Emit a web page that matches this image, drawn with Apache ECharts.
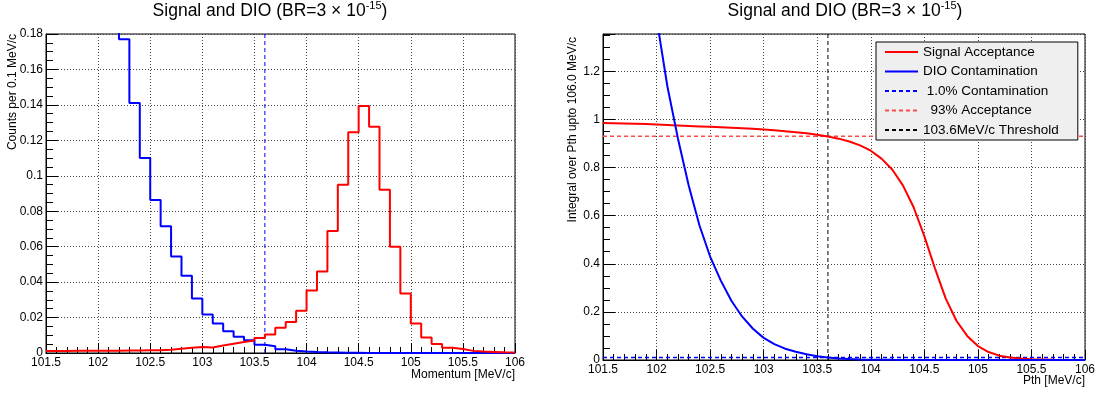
<!DOCTYPE html>
<html>
<head>
<meta charset="utf-8">
<script src="https://cdn.jsdelivr.net/npm/echarts@6/dist/echarts.min.js"></script>
<style>
html,body{margin:0;padding:0;background:#fff;}
#c{width:1099px;height:396px;}
</style>
</head>
<body>
<div id="c"></div>
<script>
// ---------- data ----------
// histogram bin edges (MeV/c), 0.1 MeV/c bins
const binEdges = [101.5,101.6,101.7,101.8,101.9,102.0,102.1,102.2,102.3,102.4,
  102.5,102.6,102.7,102.8,102.9,103.0,103.1,103.2,103.3,103.4,
  103.5,103.6,103.7,103.8,103.9,104.0,104.1,104.2,104.3,104.4,
  104.5,104.6,104.7,104.8,104.9,105.0,105.1,105.2,105.3,105.4,
  105.5,105.6,105.7,105.8,105.9,106.0];
// counts per bin (45 bins)
const signalCounts = [0.0011,0.0011,0.0012,0.0012,0.0012,0.0013,0.0013,0.0014,0.0014,0.0015,
  0.0016,0.0018,0.0024,0.0029,0.0034,0.0031,0.0042,0.0052,0.0062,0.0070,
  0.0085,0.0104,0.0142,0.0175,0.0238,0.0353,0.0460,0.0689,0.0949,0.1246,
  0.1394,0.1276,0.0921,0.0600,0.0336,0.0166,0.0087,0.0051,0.0030,0.0022,
  0.0012,0.0008,0.0006,0.0004,0.0003];
const dioCounts = [0.86,0.69,0.55,0.44,0.35,0.28,0.225,0.177,0.141,0.110,
  0.0864,0.0715,0.0545,0.0436,0.0308,0.0217,0.0166,0.0123,0.0092,0.0072,
  0.0047,0.0038,0.0021,0.0013,0.0009,0.0006,0.0004,0.0003,0.0002,0.0001,
  0,0,0,0,0,0,0,0,0,0,
  0,0,0,0,0];
// threshold scan
const pthValues = [101.5,101.6,101.7,101.8,101.9,102.0,102.1,102.2,102.3,102.4,
  102.5,102.6,102.7,102.8,102.9,103.0,103.1,103.2,103.3,103.4,
  103.5,103.6,103.7,103.8,103.9,104.0,104.1,104.2,104.3,104.4,
  104.5,104.6,104.7,104.8,104.9,105.0,105.1,105.2,105.3,105.4,
  105.5,105.6,105.7,105.8,105.9,106.0];
const signalAcceptance = [0.985,0.984,0.983,0.982,0.981,0.979,0.977,0.975,0.973,0.971,
  0.969,0.967,0.965,0.963,0.961,0.958,0.955,0.951,0.947,0.942,
  0.936,0.929,0.920,0.908,0.892,0.870,0.837,0.792,0.726,0.635,
  0.515,0.380,0.255,0.163,0.100,0.058,0.033,0.018,0.010,0.006,
  0.003,0.002,0.001,0.0005,0.0002,0];
const dioContamination = [3.6,2.9,2.35,1.95,1.65,1.42,1.14,0.92,0.725,0.56,
  0.43,0.33,0.245,0.18,0.13,0.092,0.066,0.047,0.034,0.024,
  0.016,0.010,0.0065,0.004,0.0025,0.0015,0.001,0.0006,0.0004,0.0002,
  0.0001,0,0,0,0,0,0,0,0,0,
  0,0,0,0,0,0];
const thresholdMomentum = 103.6;
const contaminationLevel = 0.01;
const acceptanceLevel = 0.93;
const xRange = [101.5, 106];
const leftYMax = 0.18;
const rightYMax = 1.355;
const legendNames = ['Signal Acceptance','DIO Contamination',' 1.0% Contamination','  93% Acceptance','103.6MeV/c Threshold'];
const titleText = 'Signal and DIO (BR=3 × 10{s|-15})';

// ---------- build ----------
const FONT = 'Liberation Sans, Arial, Helvetica, sans-serif';
const L = {x0:46, x1:515, y0:34, y1:353};
const R = {x0:603, x1:1085, y0:34, y1:360};
function histData(vals){
  return binEdges.map((e,i)=>[e, i<vals.length ? vals[i] : vals[vals.length-1]]);
}
function curveData(vals){ return pthValues.map((p,i)=>[p, vals[i]]); }

const gridLine = {color:'#444', width:1, type:[1,2]};
function xAxisCfg(gi){
  return {type:'value', gridIndex:gi, min:xRange[0], max:xRange[1], interval:0.5,
    axisLine:{show:true, onZero:false, lineStyle:{color:'#000', width:1}},
    axisTick:{show:true, inside:true, length:10, lineStyle:{color:'#000'}},
    minorTick:{show:true, splitNumber:5, length:6, lineStyle:{color:'#000'}},
    axisLabel:{color:'#000', fontFamily:FONT, fontSize:12, margin:4},
    splitLine:{show:true, lineStyle:gridLine}};
}
function yAxisCfg(gi, max, interval, fmt){
  return {type:'value', gridIndex:gi, min:0, max:max, interval:interval,
    axisLine:{show:true, onZero:false, lineStyle:{color:'#000', width:1}},
    axisTick:{show:true, inside:true, length:12, lineStyle:{color:'#000'}},
    minorTick:{show:true, splitNumber:4, length:7, lineStyle:{color:'#000'}},
    axisLabel:{color:'#000', fontFamily:FONT, fontSize:12, margin:3, formatter:fmt},
    splitLine:{show:true, lineStyle:gridLine}};
}
const fmtLeft = v => { const k=v/0.02; return Math.abs(k-Math.round(k))<1e-6 ? String(+v.toFixed(2)) : ''; };
const fmtRight = v => { const k=v/0.2; return Math.abs(k-Math.round(k))<1e-6 ? String(+v.toFixed(2)) : ''; };

const titleStyle = {fontSize:17.5, fontWeight:'normal', color:'#000', fontFamily:FONT, lineHeight:22,
  rich:{s:{fontSize:11, fontFamily:FONT, color:'#000', lineHeight:12, verticalAlign:'top'}}};

const option = {
  animation:false,
  backgroundColor:'#fff',
  title:[
    {text:titleText, left:270, top:0, textAlign:'center', padding:0, textStyle:titleStyle},
    {text:titleText, left:845, top:0, textAlign:'center', padding:0, textStyle:titleStyle}
  ],
  grid:[
    {left:L.x0, right:1099-L.x1, top:L.y0, bottom:396-L.y1, show:true, borderColor:'#000', borderWidth:1},
    {left:R.x0, right:1099-R.x1, top:R.y0, bottom:396-R.y1, show:true, borderColor:'#000', borderWidth:1}
  ],
  xAxis:[xAxisCfg(0), xAxisCfg(1)],
  yAxis:[yAxisCfg(0, leftYMax, 0.02, fmtLeft), yAxisCfg(1, rightYMax, 0.2, fmtRight)],
  legend:{
    orient:'vertical', left:876, top:42, data:legendNames, selectedMode:false,
    backgroundColor:'#efefef', borderColor:'#000', borderWidth:1,
    padding:[3,19,3,8], itemWidth:33, itemHeight:12, itemGap:5.5, itemTextGap:10,
    itemStyle:{opacity:0},
    textStyle:{fontSize:13.5, color:'#000', fontFamily:FONT}
  },
  graphic:[
    {type:'text', x:13, y:34, rotation:Math.PI/2, style:{text:'Counts per 0.1 MeV/c', fontSize:12, fontFamily:FONT, fill:'#000', align:'right', verticalAlign:'middle'}},
    {type:'text', x:573, y:37, rotation:Math.PI/2, style:{text:'Integral over Pth upto 106.0 MeV/c', fontSize:12, fontFamily:FONT, fill:'#000', align:'right', verticalAlign:'middle'}},
    {type:'text', x:L.x1, y:375, style:{text:'Momentum [MeV/c]', fontSize:12, fontFamily:FONT, fill:'#000', align:'right', verticalAlign:'middle'}},
    {type:'text', x:R.x1, y:381, style:{text:'Pth [MeV/c]', fontSize:12, fontFamily:FONT, fill:'#000', align:'right', verticalAlign:'middle'}}
  ],
  series:[
    {name:'DIO', type:'line', xAxisIndex:0, yAxisIndex:0, step:'end', symbol:'none', clip:true,
      lineStyle:{color:'#0000ff', width:2}, data:histData(dioCounts), z:3},
    {name:'Signal', type:'line', xAxisIndex:0, yAxisIndex:0, step:'end', symbol:'none', clip:true,
      lineStyle:{color:'#ff0000', width:2}, data:histData(signalCounts), z:4},
    {name:'Threshold (left)', type:'line', xAxisIndex:0, yAxisIndex:0, symbol:'none',
      lineStyle:{color:'#0000ff', width:1, type:[4,3]}, data:[[thresholdMomentum,0],[thresholdMomentum,leftYMax]], z:2},

    {name:legendNames[0], type:'line', xAxisIndex:1, yAxisIndex:1, symbol:'none', clip:true,
      lineStyle:{color:'#ff0000', width:2}, itemStyle:{color:'#ff0000'}, data:curveData(signalAcceptance), z:4},
    {name:legendNames[1], type:'line', xAxisIndex:1, yAxisIndex:1, symbol:'none', clip:true,
      lineStyle:{color:'#0000ff', width:2}, itemStyle:{color:'#0000ff'}, data:curveData(dioContamination), z:4},
    {name:legendNames[2], type:'line', xAxisIndex:1, yAxisIndex:1, symbol:'none',
      lineStyle:{color:'#0000ff', width:1.5, type:[4,3]}, itemStyle:{color:'#0000ff'},
      data:[[xRange[0],contaminationLevel],[xRange[1],contaminationLevel]], z:3},
    {name:legendNames[3], type:'line', xAxisIndex:1, yAxisIndex:1, symbol:'none',
      lineStyle:{color:'#ff4a4a', width:1.5, type:[4,3]}, itemStyle:{color:'#ff4a4a'},
      data:[[xRange[0],acceptanceLevel],[xRange[1],acceptanceLevel]], z:3},
    {name:legendNames[4], type:'line', xAxisIndex:1, yAxisIndex:1, symbol:'none',
      lineStyle:{color:'#000', width:1, type:[4,3]}, itemStyle:{color:'#000'},
      data:[[thresholdMomentum,0],[thresholdMomentum,rightYMax]], z:3}
  ]
};
const chart = echarts.init(document.getElementById('c'), null, {renderer:'canvas'});
chart.setOption(option);
</script>
</body>
</html>
